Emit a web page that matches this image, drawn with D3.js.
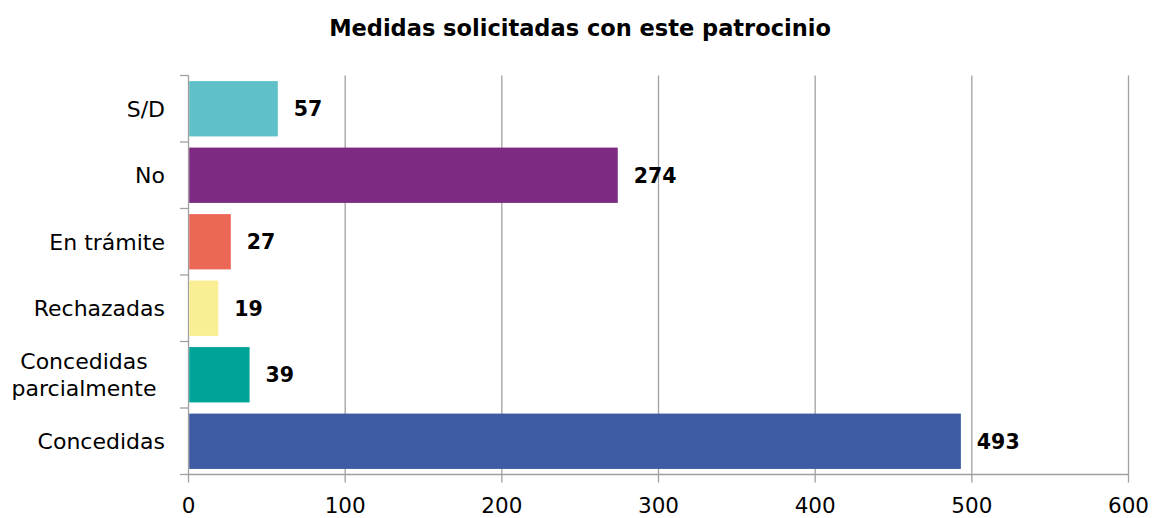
<!DOCTYPE html>
<html><head><meta charset="utf-8">
<script src="https://cdn.jsdelivr.net/npm/d3@7"></script>
<style>body{margin:0;background:#fff}svg{display:block}</style>
</head><body>
<script>
const categories = ["S/D","No","En trámite","Rechazadas","Concedidas parcialmente","Concedidas"];
const labelLines = [["S/D"],["No"],["En trámite"],["Rechazadas"],["Concedidas","parcialmente"],["Concedidas"]];
const values = [57,274,27,19,39,493];
const colors = ["#5FC0C8","#7D2A82","#EC6756","#FAEE94","#00A397","#3D5AA2"];
const xTicks = [0,100,200,300,400,500,600];
const title = "Medidas solicitadas con este patrocinio";

const W=1155,H=518;
const svg=d3.select("body").append("svg").attr("width",W).attr("height",H);
const x=d3.scaleLinear().domain([0,600]).range([188.5,1128.5]);
const y=d3.scaleBand().domain(categories).range([75.5,474.5]).paddingInner(0.168).paddingOuter(0.084);
const font="'DejaVu Sans', sans-serif";
const grid="#A0A0A0";

svg.append("text").attr("x",580).attr("y",36).attr("text-anchor","middle")
  .attr("font-family",font).attr("font-weight","bold").attr("font-size",22.5).attr("fill","#000").text(title);

// vertical gridlines (and downward ticks)
svg.append("g").selectAll("line").data(xTicks).join("line")
  .attr("x1",d=>x(d)).attr("x2",d=>x(d)).attr("y1",75.5).attr("y2",482.5)
  .attr("stroke",grid).attr("stroke-width",1.3);

// bottom axis line
svg.append("line").attr("x1",x(0)).attr("x2",x(600)).attr("y1",474.5).attr("y2",474.5)
  .attr("stroke",grid).attr("stroke-width",1.3);

// left ticks at band boundaries
const step=y.step();
const bounds=d3.range(categories.length+1).map(i=>75.5+i*step);
svg.append("g").selectAll("line").data(bounds).join("line")
  .attr("x1",180).attr("x2",x(0)).attr("y1",d=>d).attr("y2",d=>d)
  .attr("stroke",grid).attr("stroke-width",1.3);

// bars
svg.append("g").selectAll("rect").data(categories).join("rect")
  .attr("x",x(0)+0.7).attr("y",d=>y(d))
  .attr("width",(d,i)=>x(values[i])-x(0)-0.7).attr("height",y.bandwidth())
  .attr("fill",(d,i)=>colors[i]);

// value labels
svg.append("g").selectAll("text").data(categories).join("text")
  .attr("x",(d,i)=>x(values[i])+16).attr("y",d=>y(d)+y.bandwidth()/2)
  .attr("dy","0.36em").attr("font-family",font).attr("font-weight","bold").attr("font-size",20.5)
  .attr("fill","#000").text((d,i)=>values[i]);

// category labels
const cl=svg.append("g");
categories.forEach((c,i)=>{
  const lines=labelLines[i];
  const cy=y(c)+y.bandwidth()/2;
  const lh=27;
  const t=cl.append("text").attr("font-family",font).attr("font-size",22).attr("fill","#000");
  if(lines.length===1){
    t.attr("x",165).attr("y",cy).attr("dy","0.36em").attr("text-anchor","end").text(lines[0]);
  } else {
    lines.forEach((ln,j)=>{
      t.append("tspan").attr("x",84).attr("text-anchor","middle")
       .attr("y",cy+(j-(lines.length-1)/2)*lh).attr("dy","0.36em").text(ln);
    });
  }
});

// x tick labels
svg.append("g").selectAll("text").data(xTicks).join("text")
  .attr("x",d=>x(d)).attr("y",512.5).attr("text-anchor","middle")
  .attr("font-family",font).attr("font-size",21.5).attr("fill","#000").text(d=>d);
</script>
</body></html>
